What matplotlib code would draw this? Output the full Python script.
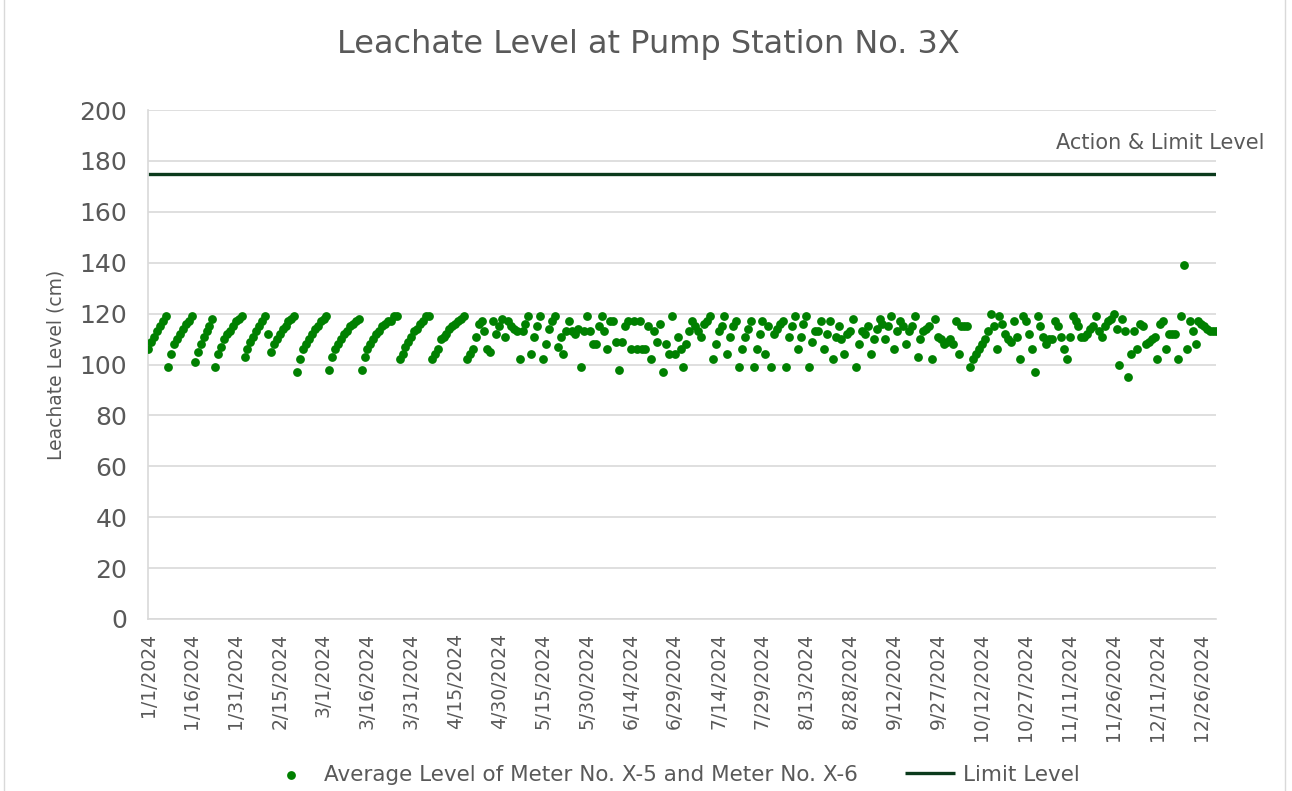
import matplotlib
matplotlib.use("Agg")
import matplotlib.pyplot as plt
import matplotlib.patches as mpatches
import numpy as np
import pandas as pd

# ---- data ----
start_date = "2024-01-01"
levels = [
    106, 109, 111, 113, 115, 117, 119, 99, 104, 108, 110, 112, 114, 116, 117, 119,
    101, 105, 108, 111, 113, 115, 118, 99, 104, 107, 110, 112, 113, 115, 117, 118, 119,
    103, 106, 109, 111, 113, 115, 117, 119, 112, 105, 108, 110, 112, 114, 115, 117, 118, 119,
    97, 102, 106, 108, 110, 112, 114, 115, 117, 118, 119,
    98, 103, 106, 108, 110, 112, 113, 115, 116, 117, 118,
    98, 103, 106, 108, 110, 112, 113, 115, 116, 117, 117, 119, 119,
    102, 104, 107, 109, 111, 113, 114, 116, 117, 119, 119,
    102, 104, 106, 110, 111, 112, 114, 115, 116, 117, 118, 119,
    102, 104, 106, 111, 116, 117, 113, 106, 105, 117, 112, 115, 118, 111, 117, 115,
    114, 113, 102, 113, 116, 119, 104, 111, 115, 119, 102, 108, 114, 117, 119, 107,
    111, 104, 113, 117, 113, 112, 114, 99, 113, 119, 113, 108, 108, 115, 119, 113,
    106, 117, 117, 109, 98, 109, 115, 117, 106, 117, 106, 117, 106, 106, 115, 102,
    113, 109, 116, 97, 108, 104, 119, 104, 111, 106, 99, 108, 113, 117, 115, 113,
    111, 116, 117, 119, 102, 108, 113, 115, 119, 104, 111, 115, 117, 99, 106, 111,
    114, 117, 99, 106, 112, 117, 104, 115, 99, 112, 114, 116, 117, 99, 111, 115,
    119, 106, 111, 116, 119, 99, 109, 113, 113, 117, 106, 112, 117, 102, 111, 115,
    110, 104, 112, 113, 118, 99, 108, 113, 112, 115, 104, 110, 114, 118, 116, 110,
    115, 119, 106, 113, 117, 115, 108, 113, 115, 119, 103, 110, 113, 114, 115, 102,
    118, 111, 110, 108, 109, 110, 108, 117, 104, 115, 115, 115, 99, 102, 104, 106,
    108, 110, 113, 120, 115, 106, 119, 116, 112, 110, 109, 117, 111, 102, 119, 117,
    112, 106, 97, 119, 115, 111, 108, 110, 110, 117, 115, 111, 106, 102, 111, 119,
    117, 115, 111, 111, 112, 114, 115, 119, 113, 111, 115, 117, 118, 120, 114, 100,
    118, 113, 95, 104, 113, 106, 116, 115, 108, 109, 110, 111, 102, 116, 117, 106,
    112, 112, 112, 102, 119, 139, 106, 117, 113, 108, 117, 116, 115, 114, 113, 113,
    113,
]
limit_level = 175
tick_labels = ["1/1/2024", "1/16/2024", "1/31/2024", "2/15/2024", "3/1/2024",
               "3/16/2024", "3/31/2024", "4/15/2024", "4/30/2024", "5/15/2024",
               "5/30/2024", "6/14/2024", "6/29/2024", "7/14/2024", "7/29/2024",
               "8/13/2024", "8/28/2024", "9/12/2024", "9/27/2024", "10/12/2024",
               "10/27/2024", "11/11/2024", "11/26/2024", "12/11/2024", "12/26/2024"]
y_ticks = [0, 20, 40, 60, 80, 100, 120, 140, 160, 180, 200]

dates = pd.date_range(start_date, periods=len(levels), freq="D")
t0 = pd.Timestamp(start_date)
xdays = np.array([(d - t0).days for d in dates])
tick_pos = [(pd.to_datetime(s, format="%m/%d/%Y") - t0).days for s in tick_labels]

GRAY_TXT = "#595959"
GRID = "#d9d9d9"
GREEN = "#008000"
DARK = "#0b3a1c"

fig = plt.figure(figsize=(12.92, 7.91), dpi=100)
ax = fig.add_axes([148/1292, 1-619/791, (1216-148)/1292, (619-110)/791])

ax.scatter(xdays, levels, s=40, color=GREEN, zorder=3, linewidths=0,
           label="Average Level of Meter No. X-5 and Meter No. X-6")
ax.plot([0, 365], [limit_level, limit_level], color=DARK, lw=2.4, zorder=2,
        label="Limit Level", solid_capstyle="butt")

ax.set_xlim(0, 365)
ax.set_ylim(0, 200)
ax.set_yticks(y_ticks)
ax.set_xticks(tick_pos)
ax.set_xticklabels(tick_labels, rotation=90)
ax.tick_params(axis="y", length=0, labelsize=18, labelcolor=GRAY_TXT, pad=15)
ax.tick_params(axis="x", length=0, labelsize=13.5, labelcolor=GRAY_TXT, pad=10)
ax.grid(axis="y", color=GRID, lw=1.2)
ax.set_axisbelow(True)
for s in ["top", "right"]:
    ax.spines[s].set_visible(False)
ax.spines["left"].set_color(GRID)
ax.spines["bottom"].set_color(GRID)
ax.spines["left"].set_linewidth(1.2)
ax.spines["bottom"].set_linewidth(1.2)

ax.set_ylabel("Leachate Level (cm)", fontsize=13.5, color=GRAY_TXT, labelpad=10)

fig.text(648/1292, 1-45/791, "Leachate Level at Pump Station No. 3X",
         ha="center", va="center", fontsize=23, color=GRAY_TXT)
fig.text(1160/1292, 1-143/791, "Action & Limit Level", ha="center", va="center",
         fontsize=15, color=GRAY_TXT)

leg = fig.legend(loc="center", bbox_to_anchor=(673/1292, 1-775/791), ncol=2,
                 frameon=False, fontsize=15.5, labelcolor=GRAY_TXT,
                 handlelength=2.3, columnspacing=2.2, handletextpad=0.4,
                 markerscale=1.0)

fig.patches.append(mpatches.Rectangle((4/1292, -0.01), 1281/1292, 1.02,
                                      transform=fig.transFigure, fill=False,
                                      edgecolor=GRID, lw=1))

fig.savefig("out.png", dpi=100)
